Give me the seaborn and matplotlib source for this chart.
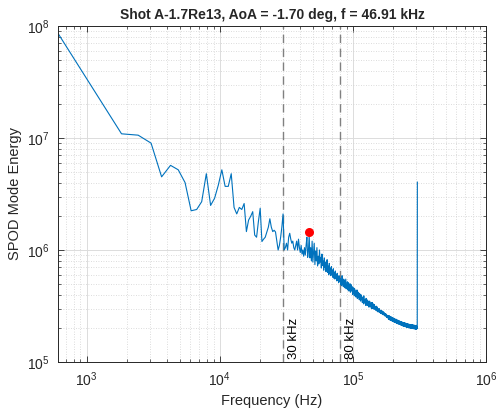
import numpy as np
import pandas as pd
import matplotlib
matplotlib.use("Agg")
import matplotlib.pyplot as plt
import seaborn as sns

# ---------------- data ----------------
df_hz = 610.35  # frequency resolution
bin_index = np.arange(1, 501)

energy_low = [  # k = 1 .. 60
    8.6e7, 2.34e7, 1.09e7, 1.06e7, 9.0e6, 4.5e6, 5.7e6, 5.2e6, 4.0e6, 2.24e6,
    2.3e6, 2.7e6, 4.8e6, 2.5e6, 2.9e6, 3.8e6, 5.2e6, 3.7e6, 3.7e6, 4.8e6,
    2.4e6, 2.1e6, 2.4e6, 2.3e6, 2.6e6, 1.46e6, 1.85e6, 2.0e6, 2.2e6, 1.36e6,
    1.3e6, 1.8e6, 2.36e6, 1.19e6, 1.25e6, 1.3e6, 1.45e6, 1.6e6, 1.9e6, 1.6e6,
    1.46e6, 1.5e6, 1.45e6, 1.2e6, 1.0e6, 1.1e6, 1.3e6, 1.6e6, 2.1e6, 1.0e6,
    1.05e6, 1.15e6, 1.0e6, 1.3e6, 1.41e6, 1.25e6, 1.15e6, 1.2e6, 1.05e6, 1.0e6,
]
energy_mid = [  # k = 61 .. 131
    1.1e6, 1.2e6, 1.0e6, 1.25e6, 1.05e6, 9.5e5, 1.1e6, 9.2e5, 1.0e6, 8.8e5,
    1.05e6, 9.0e5, 1.1e6, 1.3e6, 8.6e5, 9.8e5, 1.35e6, 8.5e5, 1.05e6, 8.0e5,
    1.2e6, 7.8e5, 9.5e5, 1.15e6, 7.4e5, 9.8e5, 8.0e5, 1.05e6, 7.2e5, 8.8e5,
    7.5e5, 1.0e6, 7.8e5, 8.6e5, 6.9e5, 9.2e5, 7.3e5, 8.0e5, 6.6e5, 8.5e5,
    7.0e5, 7.8e5, 6.4e5, 7.5e5, 8.2e5, 6.3e5, 7.2e5, 6.0e5, 7.6e5, 6.2e5,
    6.9e5, 5.9e5, 7.1e5, 6.1e5, 6.6e5, 5.7e5, 6.8e5, 5.6e5, 6.3e5, 5.5e5,
    6.5e5, 5.6e5, 6.0e5, 5.3e5, 6.2e5, 5.4e5, 5.8e5, 5.1e5, 5.9e5, 5.2e5,
    5.5e5,
]
energy_high_e5 = [  # k = 132 .. 500, in units of 1e5
    5.6, 4.9, 5.4, 4.8, 5.9, 5.0, 5.3, 4.7, 5.5, 5.0,
    5.3, 4.6, 5.0, 5.5, 4.5, 4.9, 4.6, 5.2, 4.4, 4.8,
    5.1, 4.3, 4.7, 4.4, 5.0, 4.2, 4.6, 4.9, 4.3, 4.5,
    4.7, 4.0, 4.4, 4.1, 4.6, 4.2, 3.9, 4.5, 4.1, 4.3,
    4.3, 3.8, 4.2, 3.9, 4.4, 3.7, 4.1, 3.9, 4.2, 3.8,
    3.9, 3.6, 4.1, 3.7, 3.8, 3.5, 4.0, 3.6, 3.9, 3.6,
    3.7, 3.4, 3.8, 3.5, 3.6, 3.3, 3.9, 3.5, 3.6, 3.4,
    3.6, 3.3, 3.5, 3.2, 3.7, 3.4, 3.3, 3.6, 3.2, 3.4,
    3.4, 3.2, 3.5, 3.1, 3.3, 3.4, 3.1, 3.5, 3.2, 3.3,
    3.3, 3.1, 3.2, 3.4, 3.0, 3.2, 3.1, 3.4, 3.0, 3.2,
    3.2, 3.0, 3.3, 3.0, 3.1, 2.95, 3.25, 3.0, 3.15, 3.05,
    3.1, 2.9, 3.05, 2.95, 3.15, 2.9, 3.0, 2.85, 3.1, 2.95,
    3.0, 2.8, 2.95, 2.85, 2.9, 2.8, 3.0, 2.85, 2.9, 2.78,
    2.9, 2.75, 2.85, 2.72, 2.9, 2.78, 2.82, 2.7, 2.88, 2.76,
    2.8, 2.68, 2.76, 2.65, 2.82, 2.7, 2.74, 2.64, 2.78, 2.69,
    2.72, 2.6, 2.68, 2.58, 2.7, 2.62, 2.66, 2.57, 2.69, 2.6,
    2.63, 2.52, 2.6, 2.5, 2.62, 2.54, 2.58, 2.49, 2.6, 2.53,
    2.58, 2.42, 2.55, 2.4, 2.6, 2.44, 2.5, 2.38, 2.56, 2.43,
    2.52, 2.37, 2.48, 2.35, 2.55, 2.38, 2.46, 2.34, 2.5, 2.39,
    2.48, 2.33, 2.45, 2.31, 2.5, 2.34, 2.42, 2.3, 2.46, 2.35,
    2.43, 2.29, 2.41, 2.27, 2.45, 2.3, 2.38, 2.26, 2.42, 2.31,
    2.4, 2.25, 2.36, 2.24, 2.41, 2.27, 2.34, 2.22, 2.38, 2.27,
    2.35, 2.22, 2.33, 2.2, 2.37, 2.23, 2.3, 2.19, 2.34, 2.23,
    2.32, 2.19, 2.3, 2.17, 2.33, 2.2, 2.27, 2.16, 2.31, 2.2,
    2.29, 2.16, 2.27, 2.14, 2.3, 2.17, 2.24, 2.13, 2.28, 2.17,
    2.26, 2.13, 2.24, 2.11, 2.27, 2.14, 2.21, 2.1, 2.25, 2.14,
    2.24, 2.11, 2.22, 2.09, 2.25, 2.12, 2.19, 2.08, 2.23, 2.12,
    2.22, 2.09, 2.2, 2.07, 2.23, 2.1, 2.17, 2.06, 2.21, 2.1,
    2.2, 2.07, 2.18, 2.05, 2.21, 2.08, 2.15, 2.04, 2.19, 2.08,
    2.18, 2.05, 2.16, 2.03, 2.19, 2.06, 2.13, 2.02, 2.17, 2.06,
    2.16, 2.04, 2.15, 2.02, 2.17, 2.05, 2.12, 2.01, 2.16, 2.05,
    2.15, 2.03, 2.14, 2.01, 2.16, 2.04, 2.11, 2.0, 2.15, 2.04,
    2.14, 2.02, 2.13, 2.0, 2.15, 2.03, 2.1, 1.99, 2.14, 2.03,
    2.13, 2.01, 2.12, 1.99, 2.14, 2.02, 2.09, 1.98, 2.13, 2.02,
    2.12, 2.0, 2.11, 1.98, 2.13, 2.01, 2.08, 1.97, 2.12, 2.01,
    2.11, 1.99, 2.1, 1.97, 2.12, 2.0, 2.07, 1.96, 2.11, 2.0,
    2.1, 1.98, 2.08, 1.97, 2.06, 1.99, 2.04, 2.0,
    40.5,
]

marker_freq_hz = 46910.0
marker_energy = 1.46e6
band_lines_hz = [30000.0, 80000.0]
band_labels = ["30 kHz", "80 kHz"]
title_text = "Shot A-1.7Re13, AoA = -1.70 deg, f = 46.91 kHz"

energy = np.concatenate([energy_low, energy_mid, np.array(energy_high_e5) * 1e5])
freq = bin_index * df_hz
data = pd.DataFrame({"Frequency (Hz)": freq, "SPOD Mode Energy": energy})

# ---------------- styling ----------------
sns.set_theme(style="ticks")
plt.rcParams["font.family"] = ["Liberation Sans", "DejaVu Sans"]
plt.rcParams["mathtext.fontset"] = "custom"
plt.rcParams["mathtext.rm"] = "Liberation Sans"
plt.rcParams["mathtext.it"] = "Liberation Sans:italic"

fig = plt.figure(figsize=(4.96, 4.11), dpi=100)
ax = fig.add_axes([58 / 496, 49 / 411, 428 / 496, 336 / 411])

sns.lineplot(data=data, x="Frequency (Hz)", y="SPOD Mode Energy", ax=ax,
             color="#0072BD", linewidth=0.8, estimator=None, sort=False)

ax.set_xscale("log")
ax.set_yscale("log")
ax.set_xlim(freq[0], 1e6)
ax.set_ylim(1e5, 1e8)

for xv, lab in zip(band_lines_hz, band_labels):
    ax.axvline(xv, color="#808080", linestyle=(0, (6, 4)), linewidth=1.0, zorder=1)
    ax.text(xv * 1.09, 1.06e5, lab, rotation=90, ha="left", va="bottom",
            fontsize=9.5, color="black")

ax.plot([marker_freq_hz], [marker_energy], "o", color="red", markersize=6.5,
        markeredgewidth=0, zorder=5)

ax.grid(True, which="major", color="#dcdcdc", linewidth=0.7, linestyle="-")
ax.grid(True, which="minor", color="#d0d0d0", linewidth=0.6, linestyle=(0, (1, 2)))
ax.set_axisbelow(True)

ax.tick_params(which="both", direction="in", top=True, right=True,
               colors="#262626", labelsize=10, labelcolor="#262626")
ax.tick_params(which="major", length=4, width=0.6, pad=6)
ax.tick_params(which="minor", length=2.5, width=0.5)
for sp in ax.spines.values():
    sp.set_color("#262626")
    sp.set_linewidth(0.7)

ax.set_xlabel("Frequency (Hz)", fontsize=10.5, color="#262626", labelpad=4)
ax.set_ylabel("SPOD Mode Energy", fontsize=10.5, color="#262626", labelpad=4)
ax.set_title(title_text, fontsize=10, fontweight="bold", pad=5)

fig.savefig("out.png", dpi=100)
